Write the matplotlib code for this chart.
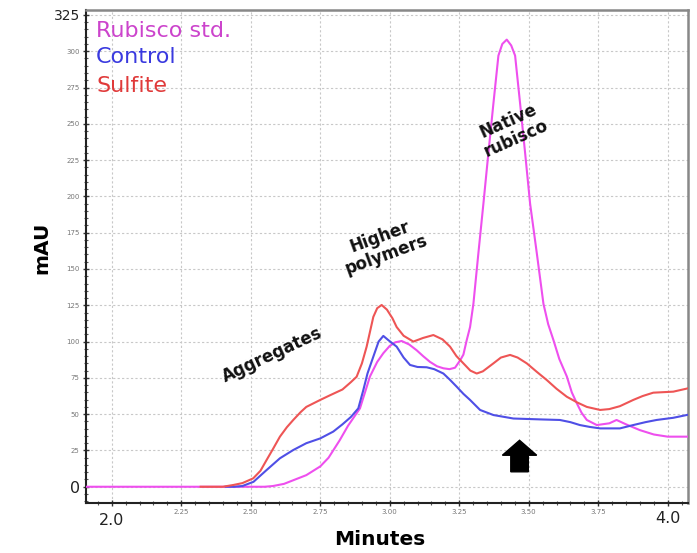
import matplotlib
matplotlib.use("Agg")
import matplotlib.pyplot as plt
from matplotlib.ticker import MultipleLocator, FixedLocator

# ---- data ----
std_x = [1.90, 2.50, 2.55, 2.58, 2.62, 2.66, 2.70, 2.75, 2.78, 2.80, 2.82, 2.85, 2.893, 2.929,
         2.955, 2.977, 3.00, 3.02, 3.043, 3.07, 3.097, 3.12, 3.145, 3.17, 3.193, 3.215, 3.235,
         3.253, 3.265, 3.277, 3.289, 3.301, 3.319, 3.337, 3.355, 3.373, 3.391, 3.405, 3.421,
         3.437, 3.451, 3.469, 3.487, 3.505, 3.529, 3.553, 3.57, 3.589, 3.61, 3.637, 3.655,
         3.673, 3.69, 3.709, 3.745, 3.79, 3.816, 3.85, 3.90, 3.95, 4.00, 4.073]
std_y = [0, 0, 0, 0.5, 2, 5, 8, 14, 20, 26, 32, 42, 54, 76,
         86, 92, 97, 99.5, 100.4, 98, 94, 90, 86, 83, 81.6, 81, 82,
         87, 91, 101, 110, 126, 161, 195, 230, 264, 297, 305, 308,
         304, 297, 264, 230, 195, 161, 126, 112, 101, 88, 76, 65,
         57.5, 51, 46, 42.5, 43.7, 46, 43, 39, 36, 34.5, 34.5]

ctrl_x = [2.41, 2.44, 2.47, 2.51, 2.557, 2.605, 2.653, 2.70, 2.75, 2.797, 2.83, 2.86, 2.887,
          2.905, 2.92, 2.941, 2.96, 2.977, 2.995, 3.025, 3.05, 3.073, 3.10, 3.133, 3.16,
          3.193, 3.215, 3.241, 3.265, 3.289, 3.325, 3.373, 3.445, 3.54, 3.612, 3.65, 3.684,
          3.72, 3.757, 3.828, 3.876, 3.92, 3.96, 4.02, 4.073]
ctrl_y = [0, 0, 0.5, 3.4, 11.5, 19.6, 25.3, 30, 33.3, 38, 43, 48, 54,
          66.6, 78, 89.6, 100, 103.9, 101, 96.5, 89, 83.9, 82.5, 82.3, 81,
          78, 74, 68.9, 64, 59.8, 52.9, 49.4, 47, 46.4, 46, 44.5, 42.5,
          41.2, 40.2, 40.2, 42.5, 44.5, 46, 47.5, 49.6]

sulf_x = [2.32, 2.40, 2.437, 2.47, 2.509, 2.535, 2.557, 2.58, 2.605, 2.63, 2.653, 2.68, 2.70,
          2.75, 2.785, 2.83, 2.86, 2.881, 2.90, 2.917, 2.941, 2.955, 2.971, 2.99, 3.01,
          3.025, 3.05, 3.085, 3.12, 3.157, 3.19, 3.217, 3.24, 3.265, 3.29, 3.313, 3.335,
          3.373, 3.40, 3.433, 3.46, 3.493, 3.53, 3.565, 3.60, 3.637, 3.675, 3.709, 3.757,
          3.79, 3.828, 3.876, 3.91, 3.948, 4.02, 4.073]
sulf_y = [0, 0, 1.2, 2.5, 5.8, 11, 18.4, 26, 34.5, 41, 46, 51.5, 55,
          59.8, 63, 67, 72, 75.8, 85, 96.5, 117, 123, 125.2, 122, 116,
          110, 104, 100, 102.5, 104.5, 101.5, 96.5, 90, 85, 80, 78, 79.5,
          85, 89, 90.8, 89, 85, 79, 73.5, 67.5, 62, 58, 55, 52.9,
          53.5, 55.5, 59.8, 62.5, 64.8, 65.5, 67.8]

series_names = ["Rubisco std.", "Control", "Sulfite"]
x_ticks = [2.0, 2.25, 2.50, 2.75, 3.00, 3.25, 3.50, 3.75, 4.0]
x_tick_labels = ["", "2.25", "2.50", "2.75", "3.00", "3.25", "3.50", "3.75", ""]
y_ticks = [0, 25, 50, 75, 100, 125, 150, 175, 200, 225, 250, 275, 300, 325]
y_tick_labels = ["0", "25", "50", "75", "100", "125", "150", "175", "200", "225",
                 "250", "275", "300", "325"]
peak_labels = ["Aggregates", "Higher\npolymers", "Native\nrubisco"]
peak_pos = [(2.577, 91), (2.975, 166), (3.44, 246)]
peak_rot = [25, 20, 24]

plt.rcParams['font.family'] = ['DejaVu Sans']

fig = plt.figure(figsize=(6.97, 5.53), dpi=100)
ax = fig.add_axes([0.1234, 0.0904, 0.8637, 0.8915])

c_std, c_ctrl, c_sulf = "#ee4fee", "#4f4fe6", "#ee5555"
ax.plot(std_x, std_y, color=c_std, lw=1.5, zorder=3)
ax.plot(ctrl_x, ctrl_y, color=c_ctrl, lw=1.5, zorder=4)
ax.plot(sulf_x, sulf_y, color=c_sulf, lw=1.5, zorder=5)

ax.set_xlim(1.9075, 4.073)
ax.set_ylim(-11.2, 328.4)

ax.xaxis.set_major_locator(FixedLocator(x_ticks))
ax.yaxis.set_major_locator(FixedLocator(y_ticks))
ax.xaxis.set_minor_locator(MultipleLocator(0.05))
ax.yaxis.set_minor_locator(MultipleLocator(5))
ax.set_xticklabels(x_tick_labels)
ax.set_yticklabels(y_tick_labels)
ax.tick_params(axis='both', which='major', direction='inout', length=5, width=1,
               color='#333333', labelsize=5, labelcolor='#777777', pad=2)
ax.tick_params(axis='both', which='minor', direction='inout', length=3, width=0.8,
               color='#555555')
for lab in ax.get_yticklabels():
    if lab.get_text() == "325":
        lab.set_fontsize(10)
        lab.set_color('#222222')
    elif lab.get_text() == "0":
        lab.set_fontsize(11.5)
        lab.set_color('#222222')

ax.grid(True, which='major', color='#c8c8c8', linestyle=(0, (2, 2)), lw=0.8)
ax.set_axisbelow(True)

for s in ['left', 'bottom']:
    ax.spines[s].set_color('#222222')
    ax.spines[s].set_linewidth(1.5)
for s in ['top', 'right']:
    ax.spines[s].set_color('#888888')
    ax.spines[s].set_linewidth(1.8)

# big x labels at the ends
ax.text(2.0, -0.036, "2.0", transform=ax.get_xaxis_transform(), ha='center', va='center',
        fontsize=11.5, color='#222222')
ax.text(4.0, -0.031, "4.0", transform=ax.get_xaxis_transform(), ha='center', va='center',
        fontsize=11.5, color='#222222')

ax.set_xlabel("Minutes", fontsize=14.5, fontweight='bold', va='center')
ax.set_ylabel("mAU", fontsize=14.5, fontweight='bold', va='center')
ax.xaxis.set_label_coords(0.488, -0.075)
ax.yaxis.set_label_coords(-0.073, 0.517)

# legend-like coloured labels
leg_colors = ["#cc44cc", "#3a3adf", "#e03a3a"]
leg_y = [0.945, 0.892, 0.834]
for name, col, yy in zip(series_names, leg_colors, leg_y):
    ax.text(0.0166, yy, name, transform=ax.transAxes, color=col, fontsize=16,
            va='baseline', ha='left')

for txt, (px, py), rot in zip(peak_labels, peak_pos, peak_rot):
    ax.text(px, py, txt, rotation=rot, ha='center', va='center', fontsize=12,
            fontweight='bold', color='#111111', linespacing=1.05,
            rotation_mode='anchor')

# black up arrow
ax.arrow(3.467, 10.3, 0, 21.7, width=0.063, head_width=0.1235, head_length=10.3,
         length_includes_head=True, color='black', zorder=6)

fig.savefig("out.png", dpi=100)
